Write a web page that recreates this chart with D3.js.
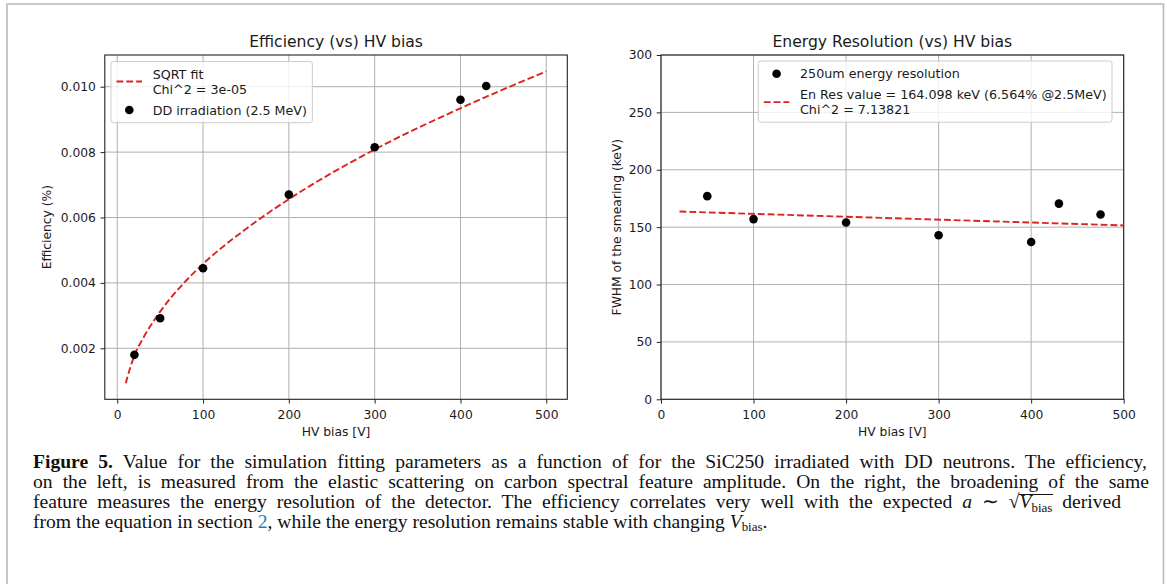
<!DOCTYPE html>
<html><head><meta charset="utf-8">
<script src="https://cdn.jsdelivr.net/npm/d3@7"></script>
<style>
body{margin:0;background:#fff;width:1167px;height:584px;overflow:hidden;position:relative;}
svg{position:absolute;left:0;top:0;}
.cap{position:absolute;left:33px;font-family:"Liberation Serif","Times New Roman",serif;font-size:19.6px;line-height:19.8px;height:19.8px;white-space:nowrap;color:#111;}
.just{text-align:justify;text-align-last:justify;}
.sub{font-size:0.66em;position:relative;top:0.3em;}
</style></head><body>
<script>
// ---------- data ----------
const xTicks = [0, 100, 200, 300, 400, 500];
const effYTicks = [0.002, 0.004, 0.006, 0.008, 0.010];
const resYTicks = [0, 50, 100, 150, 200, 250, 300];

const effX = [20, 50, 100, 200, 300, 400, 430];
const effY = [0.0018, 0.00292, 0.00445, 0.0067, 0.00815, 0.0096, 0.01002];
const effFitX = [10, 12, 15, 20, 30, 50, 75, 100, 150, 200, 300, 400, 500];
const effFitY = [0.00093, 0.00113, 0.00139, 0.00178, 0.00230, 0.00312, 0.00392, 0.00458, 0.00565, 0.00656, 0.00808, 0.00934, 0.01047];

const resX = [50, 100, 200, 300, 400, 430, 475];
const resY = [177, 157, 154, 143, 137, 170.5, 161];
const resFitX = [20, 500];
const resFitY = [163.6, 151.5];

const effLegend = [["SQRT fit", "Chi^2 = 3e-05"], ["DD irradiation (2.5 MeV)"]];
const resLegend = [["250um energy resolution"], ["En Res value = 164.098 keV (6.564% @2.5MeV)", "Chi^2 = 7.13821"]];

// ---------- setup ----------
const W = 1167, H = 584;
const svg = d3.select("body").append("svg").attr("width", W).attr("height", H);
const FONT = "DejaVu Sans, Verdana, sans-serif";
const RED = "#dd2320";
const FS = 12.3, LFS = 12.7;

// outer frame
svg.append("path").attr("d", "M7,590 L7,4 L1163.5,4 L1163.5,590")
  .attr("fill", "none").attr("stroke", "#b9b9b9").attr("stroke-width", 1.6);

function panel(cfg) {
  const g = svg.append("g");
  const x = d3.scaleLinear().domain(cfg.xDom).range([cfg.x0, cfg.x1]);
  const y = d3.scaleLinear().domain(cfg.yDom).range([cfg.y1, cfg.y0]);

  // grid
  g.append("g").selectAll("line").data(xTicks).join("line")
    .attr("x1", d => x(d)).attr("x2", d => x(d)).attr("y1", cfg.y0).attr("y2", cfg.y1)
    .attr("stroke", "#b0b0b0").attr("stroke-width", 1);
  g.append("g").selectAll("line").data(cfg.yTicks).join("line")
    .attr("x1", cfg.x0).attr("x2", cfg.x1).attr("y1", d => y(d)).attr("y2", d => y(d))
    .attr("stroke", "#b0b0b0").attr("stroke-width", 1);

  // axes
  const ax = g.append("g").attr("transform", `translate(0,${cfg.y1})`)
    .call(d3.axisBottom(x).tickValues(xTicks).tickSize(4.3).tickSizeOuter(0).tickPadding(6.2).tickFormat(d3.format("d")));
  const ay = g.append("g").attr("transform", `translate(${cfg.x0},0)`)
    .call(d3.axisLeft(y).tickValues(cfg.yTicks).tickSize(4.3).tickSizeOuter(0).tickPadding(4.6).tickFormat(cfg.yFmt));
  [ax, ay].forEach(a => {
    a.select(".domain").remove();
    a.selectAll("line").attr("stroke", "#222").attr("stroke-width", 1);
    a.selectAll("text").attr("font-family", FONT).attr("font-size", FS).attr("fill", "#1a1a1a");
  });

  // frame
  g.append("rect").attr("x", cfg.x0).attr("y", cfg.y0).attr("width", cfg.x1 - cfg.x0).attr("height", cfg.y1 - cfg.y0)
    .attr("fill", "none").attr("stroke", "#222").attr("stroke-width", 1.1);

  // fit line
  const fit = d3.range(cfg.fitX.length).map(i => [cfg.fitX[i], cfg.fitY[i]]);
  g.append("path").datum(fit)
    .attr("d", d3.line().x(d => x(d[0])).y(d => y(d[1])).curve(d3.curveMonotoneX))
    .attr("fill", "none").attr("stroke", RED).attr("stroke-width", 1.9).attr("stroke-dasharray", "6.8,3");

  // points
  g.append("g").selectAll("circle").data(d3.range(cfg.px.length)).join("circle")
    .attr("cx", i => x(cfg.px[i])).attr("cy", i => y(cfg.py[i])).attr("r", 4.3).attr("fill", "#000");

  // title & labels
  const cx = (cfg.x0 + cfg.x1) / 2, cy = (cfg.y0 + cfg.y1) / 2;
  g.append("text").attr("x", cx).attr("y", 46.8).attr("text-anchor", "middle")
    .attr("font-family", FONT).attr("font-size", 15.6).attr("fill", "#1a1a1a").text(cfg.title);
  g.append("text").attr("x", cx).attr("y", 436).attr("text-anchor", "middle")
    .attr("font-family", FONT).attr("font-size", FS).attr("fill", "#1a1a1a").text("HV bias [V]");
  g.append("text").attr("transform", `translate(${cfg.ylabX},${cy}) rotate(-90)`).attr("text-anchor", "middle")
    .attr("font-family", FONT).attr("font-size", FS).attr("fill", "#1a1a1a").text(cfg.ylabel);

  // legend
  const L = g.append("g");
  const box = L.append("rect").attr("rx", 2.5).attr("ry", 2.5)
    .attr("fill", "#fff").attr("fill-opacity", 0.8).attr("stroke", "#cccccc").attr("stroke-width", 1);
  const lineH = LFS * 1.16, gap = LFS * 0.5, pad = LFS * 0.42;
  let yy = cfg.ly + pad;
  const textX = cfg.lx + 41.7;
  const items = L.append("g");
  cfg.legend.forEach((lines, idx) => {
    const h = lines.length * lineH;
    const mid = yy + h / 2;
    if (cfg.legendKinds[idx] === "line") {
      items.append("line").attr("x1", cfg.lx + 5.5).attr("x2", cfg.lx + 31).attr("y1", mid).attr("y2", mid)
        .attr("stroke", RED).attr("stroke-width", 1.9).attr("stroke-dasharray", "6.8,3");
    } else {
      items.append("circle").attr("cx", cfg.lx + 18.3).attr("cy", mid).attr("r", 4.3).attr("fill", "#000");
    }
    lines.forEach((t, k) => {
      items.append("text").attr("x", textX).attr("y", yy + lineH * k + lineH / 2).attr("dy", "0.36em")
        .attr("font-family", FONT).attr("font-size", LFS).attr("fill", "#1a1a1a").text(t);
    });
    yy += h + gap;
  });
  const bb = items.node().getBBox();
  const right = bb.x + bb.width + pad;
  box.attr("x", cfg.lx).attr("y", cfg.ly).attr("width", right - cfg.lx).attr("height", (yy - gap + pad) - cfg.ly);
}

panel({
  x0: 104.8, x1: 567.3, y0: 55, y1: 399.3,
  xDom: [-14.5, 524.5], yDom: [0.00044, 0.01097],
  yTicks: effYTicks, yFmt: d3.format(".3f"),
  fitX: effFitX, fitY: effFitY, px: effX, py: effY,
  title: "Efficiency (vs) HV bias", ylabel: "Efficiency (%)", ylabX: 50.5,
  legend: effLegend, legendKinds: ["line", "dot"], lx: 111, ly: 61.5
});
panel({
  x0: 661, x1: 1123.7, y0: 55, y1: 399.3,
  xDom: [0, 500], yDom: [0, 300],
  yTicks: resYTicks, yFmt: d3.format("d"),
  fitX: resFitX, fitY: resFitY, px: resX, py: resY,
  title: "Energy Resolution (vs) HV bias", ylabel: "FWHM of the smearing (keV)", ylabX: 620.5,
  legend: resLegend, legendKinds: ["dot", "line"], lx: 758.3, ly: 61
});

// ---------- caption ----------
const capLines = [
  {top: 452.2, w: 1114, just: true, html: "<b>Figure 5.</b> Value for the simulation fitting parameters as a function of for the SiC250 irradiated with DD neutrons. The efficiency,"},
  {top: 472, w: 1116, just: true, html: "on the left, is measured from the elastic scattering on carbon spectral feature amplitude. On the right, the broadening of the same"},
  {top: 491.8, w: 1088, just: true, html: "feature measures the energy resolution of the detector. The efficiency correlates very well with the expected <i>a</i> &#8764; &#8730;<span id='sq'><i>V</i><span class='sub'>bias</span></span> derived"},
  {top: 511.6, w: 0, just: false, html: "from the equation in section <span style='color:#2a7ab9'>2</span>, while the energy resolution remains stable with changing <i>V</i><span class='sub'>bias</span>."}
];
d3.select("body").selectAll("div.cap").data(capLines).join("div")
  .attr("class", d => "cap" + (d.just ? " just" : ""))
  .style("top", d => d.top + "px")
  .style("width", d => d.just ? d.w + "px" : null)
  .html(d => d.html);

// vinculum of the square root over V_bias (placed relative to the caption's third line)
const sq = document.getElementById("sq").getBoundingClientRect();
d3.select("body").append("div")
  .style("position", "absolute")
  .style("left", (sq.left - 0.5) + "px")
  .style("top", (capLines[2].top + 1.8) + "px")
  .style("width", (sq.width + 1) + "px")
  .style("height", "0px")
  .style("border-top", "1px solid #111");
</script>
</body></html>
